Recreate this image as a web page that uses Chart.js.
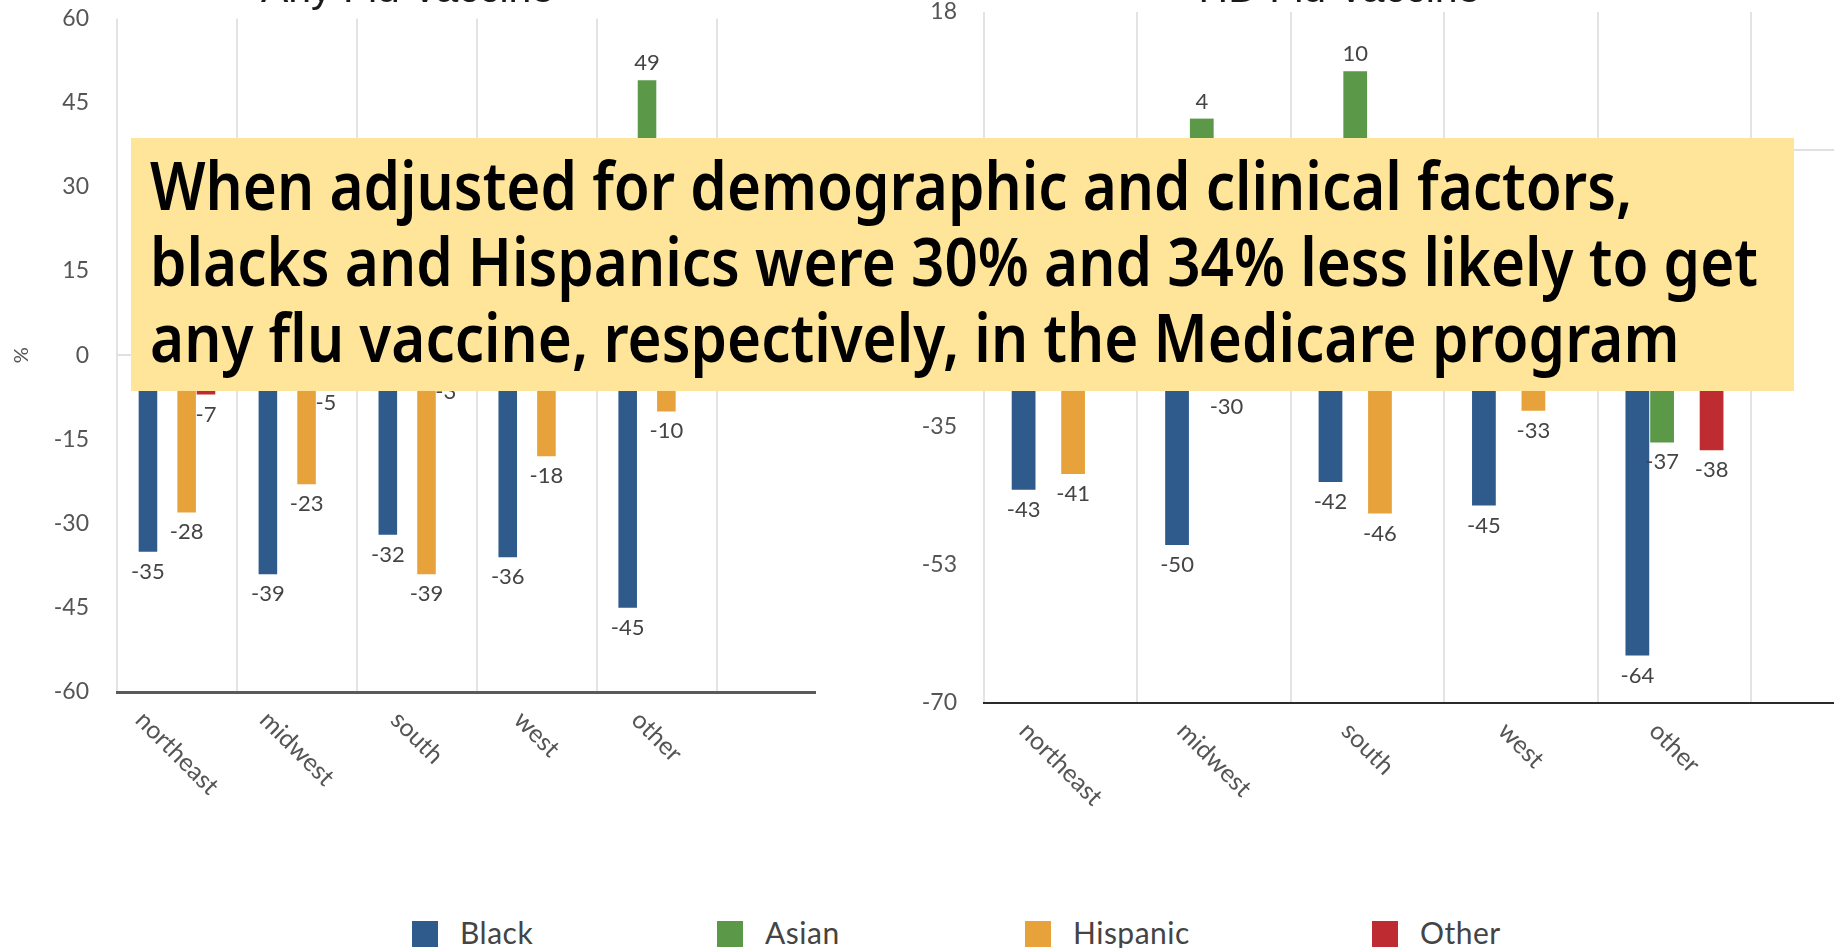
<!DOCTYPE html>
<html>
<head>
<meta charset="utf-8">
<script src="https://cdn.jsdelivr.net/npm/chart.js@4.4.1/dist/chart.umd.min.js"></script>
<style>
html,body{margin:0;padding:0;background:#fff;overflow:hidden;width:1834px;height:948px;}
#stage{position:relative;width:1834px;height:948px;overflow:hidden;background:#fff;}
canvas{position:absolute;}
#cLeft{left:0;top:-60px;}
#cRight{left:802px;top:-60px;}
#note{position:absolute;left:131px;top:138px;width:1663px;height:253px;background:#FFE599;overflow:hidden;}
#noteText{position:absolute;left:19px;top:8px;font-family:'Noto Sans','Open Sans',sans-serif;font-weight:600;font-size:67px;line-height:76px;color:#000;white-space:nowrap;transform-origin:0 0;}
#noteText div span{display:inline-block;}
.lg{position:absolute;top:921px;height:26px;display:flex;align-items:center;font-family:Lato,sans-serif;font-size:30px;letter-spacing:0.5px;line-height:1;color:#444;white-space:nowrap;}
.lg i{display:inline-block;width:26px;height:26px;margin-right:22px;}
.lg span{position:relative;top:-2px;}
</style>
</head>
<body>
<div id="stage">
  <canvas id="cLeft" width="818" height="892"></canvas>
  <canvas id="cRight" width="1078" height="903"></canvas>
  <div id="note"><div id="noteText"></div></div>
  <div id="legend"></div>
</div>
<script>
// ---------- data ----------
const categories = ['northeast', 'midwest', 'south', 'west', 'other'];
const seriesNames = ['Black', 'Asian', 'Hispanic', 'Other'];
const seriesColors = ['#2E5A8C', '#5B9848', '#E8A23C', '#BE2C31'];

// Any Flu Vaccine (left panel)
const anyBlack    = [-35, -39, -32, -36, -45];
const anyAsian    = [9, 6, 14, 11, 49];
const anyHispanic = [-28, -23, -39, -18, -10];
const anyOther    = [-7, -5, -3, -1, 5];

// HD Flu Vaccine (right panel)
const hdBlack    = [-43, -50, -42, -45, -64];
const hdAsian    = [-15, 4, 10, -20, -37];
const hdHispanic = [-41, -30, -46, -33, -20];
const hdOther    = [-18, -12, -22, -10, -38];

const anyTicks = [-60, -45, -30, -15, 0, 15, 30, 45, 60];
const anyTickLabels = ['-60', '-45', '-30', '-15', '0', '15', '30', '45', '60'];
const hdTicks = [-70, -52.5, -35, -17.5, 0, 17.5];
const hdTickLabels = ['-70', '-53', '-35', '-18', '0', '18'];

const panelTitles = ['Any Flu Vaccine', 'HD Flu Vaccine'];
const yTitle = '%';
const noteLines = [
  'When adjusted for demographic and clinical factors,',
  'blacks and Hispanics were 30% and 34% less likely to get',
  'any flu vaccine, respectively, in the Medicare program'
];

// ---------- layout constants ----------
const legendX = [412, 717, 1025, 1372];
const noteTargetWidth = 1608;

Chart.defaults.font.family = 'Lato';
Chart.defaults.color = '#555';

const valueLabels = {
  id: 'valueLabels',
  afterDatasetsDraw(chart) {
    const ctx = chart.ctx;
    ctx.save();
    ctx.font = '22px Lato';
    ctx.fillStyle = '#444';
    ctx.textAlign = 'center';
    ctx.textBaseline = 'middle';
    chart.data.datasets.forEach((ds, di) => {
      const meta = chart.getDatasetMeta(di);
      meta.data.forEach((el, i) => {
        const v = ds.data[i];
        if (v === null || v === undefined) return;
        const y = v >= 0 ? el.y - 17 : el.y + 20;
        ctx.fillText(String(v), el.x, y);
      });
    });
    ctx.restore();
  }
};

const slantLabels = {
  id: 'slantLabels',
  afterDraw(chart) {
    const sc = chart.scales.x;
    const ctx = chart.ctx;
    const size = 25;
    ctx.save();
    ctx.font = size + 'px Lato';
    ctx.fillStyle = '#555';
    ctx.textAlign = 'center';
    ctx.textBaseline = 'middle';
    const s = Math.SQRT1_2;
    sc.ticks.forEach((t, i) => {
      const label = sc.getLabelForValue(t.value);
      const w = ctx.measureText(label).width;
      const x = sc.getPixelForTick(i);
      const cy = sc.top + 15 + (w + size) * s / 2;
      ctx.save();
      ctx.translate(x, cy);
      ctx.rotate(Math.PI / 4);
      ctx.fillText(label, 0, 0);
      ctx.restore();
    });
    ctx.restore();
  }
};

function buildDatasets(values) {
  return seriesNames.map((name, k) => ({
    label: name,
    data: values[k],
    backgroundColor: seriesColors[k],
    borderWidth: 0,
    categoryPercentage: 0.645,
    barPercentage: 0.96
  }));
}

function makeChart(id, cfg) {
  return new Chart(document.getElementById(id), {
    type: 'bar',
    data: { labels: categories, datasets: buildDatasets(cfg.values) },
    options: {
      responsive: false,
      animation: false,
      events: [],
      layout: { padding: { left: 0, right: 3, top: 0, bottom: 0 } },
      plugins: {
        legend: { display: false },
        tooltip: { enabled: false },
        title: {
          display: true, text: cfg.title, color: '#1a1a1a',
          font: { family: 'Liberation Sans', size: 41, weight: 'normal', lineHeight: 1 },
          padding: { top: 30.5, bottom: cfg.titleGap }
        }
      },
      scales: {
        x: {
          offset: true,
          grid: { offset: true, color: '#e3e3e3', lineWidth: 2, drawTicks: false },
          border: { display: true, color: cfg.axisColor, width: cfg.axisWidth },
          ticks: { display: false },
          afterBuildTicks: (axis) => { if (typeof axis._valueRange === 'number') axis._valueRange += cfg.extraSlots; },
          afterFit: (axis) => { axis.height = 140; }
        },
        y: {
          min: cfg.ticks[0],
          max: cfg.ticks[cfg.ticks.length - 1],
          afterBuildTicks: (axis) => { axis.ticks = cfg.ticks.map(v => ({ value: v })); },
          ticks: {
            padding: cfg.tickPad, color: '#555', font: { size: 23 },
            callback: (v) => cfg.tickLabels[cfg.ticks.indexOf(v)]
          },
          grid: {
            drawTicks: false, lineWidth: 2,
            color: (c) => (c.tick && c.tick.value === 0) ? '#e0e0e0' : 'rgba(0,0,0,0)'
          },
          border: { display: false },
          title: { display: true, text: yTitle, color: '#555', font: { size: 20 }, padding: { top: cfg.yTitlePad, bottom: 0 } },
          afterFit: (axis) => { axis.width = cfg.yAxisWidth; }
        }
      }
    },
    plugins: [valueLabels, slantLabels]
  });
}

makeChart('cLeft', {
  title: panelTitles[0],
  values: [anyBlack, anyAsian, anyHispanic, anyOther],
  ticks: anyTicks, tickLabels: anyTickLabels,
  titleGap: 7, tickPad: 28, yTitlePad: 10, yAxisWidth: 117,
  axisColor: '#5a5a5a', axisWidth: 3, extraSlots: 0.82
});

makeChart('cRight', {
  title: panelTitles[1],
  values: [hdBlack, hdAsian, hdHispanic, hdOther],
  ticks: hdTicks, tickLabels: hdTickLabels,
  titleGap: 0.5, tickPad: 27, yTitlePad: 75, yAxisWidth: 182,
  axisColor: '#2a2a2a', axisWidth: 2, extraSlots: 0.82
});

// ---------- note box ----------
const noteText = document.getElementById('noteText');
noteLines.forEach(line => {
  const d = document.createElement('div');
  const sp = document.createElement('span');
  sp.textContent = line;
  d.appendChild(sp);
  noteText.appendChild(d);
});
const widest = Math.max(...Array.from(noteText.querySelectorAll('span')).map(s => s.getBoundingClientRect().width));
noteText.style.transform = 'scaleX(' + (noteTargetWidth / widest) + ')';

// ---------- legend ----------
const legend = document.getElementById('legend');
seriesNames.forEach((n, k) => {
  const d = document.createElement('div');
  d.className = 'lg';
  d.style.left = legendX[k] + 'px';
  const box = document.createElement('i');
  box.style.background = seriesColors[k];
  const t = document.createElement('span');
  t.textContent = n;
  d.appendChild(box);
  d.appendChild(t);
  legend.appendChild(d);
});
</script>
</body>
</html>
